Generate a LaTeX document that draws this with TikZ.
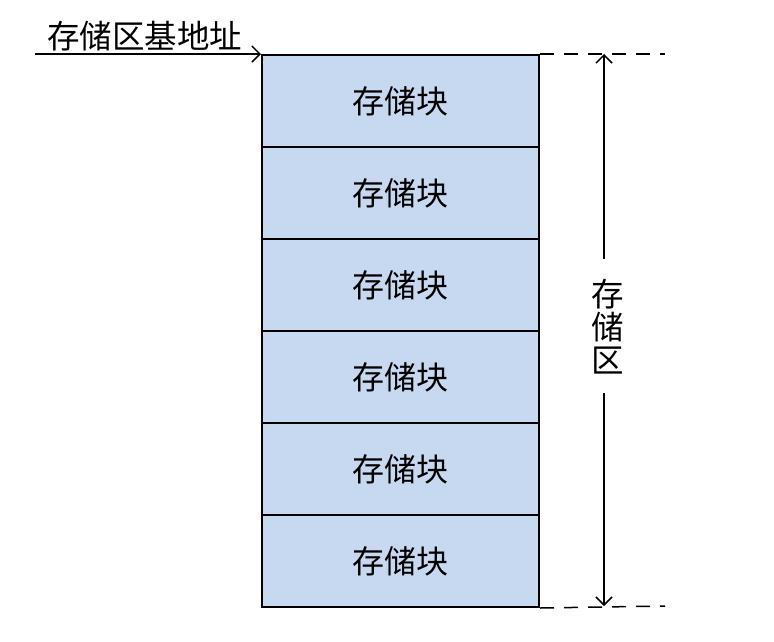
\documentclass[tikz,border=0pt]{standalone}
\usepackage{fontspec}
\newfontfamily\cjk{Noto Sans CJK SC}
\usetikzlibrary{arrows.meta}
\definecolor{blockfill}{RGB}{198,217,240}
\begin{document}
\begin{tikzpicture}[x=1pt,y=-1pt,
  blk/.style={draw=black,line width=2pt,fill=blockfill,minimum width=277pt,minimum height=92pt,inner sep=0pt,font=\cjk\fontsize{32}{33}\selectfont,anchor=north west},
  lbl/.style={font=\cjk\fontsize{32.5}{33}\selectfont,inner sep=0pt},
  arr/.style={line width=1.5pt,-{Straight Barb[length=8pt,width=16pt]}},
  dsh/.style={line width=1.5pt,dash pattern=on 14pt off 10pt}]
\useasboundingbox (0,0) rectangle (774,641);
\foreach \i in {0,...,5}{
  \node[blk] (b\i) at (261,{54+92*\i}) {存储块};
}
\coordinate (s) at (35,54);
\draw[arr] (s) -- (b0.north west);
\node[lbl,anchor=west] (base) at (47,36) {存储区基地址};
\coordinate (tr) at (665,54);
\coordinate (br) at (665,606);
\draw[dsh] (b0.north east) -- (tr);
\draw[dsh] (b5.south east) -- (br);
\node[lbl,align=center] (zone) at (608,327) {存\\储\\区};
\coordinate (vt) at (604,54);
\coordinate (vb) at (604,606);
\coordinate (gt) at (604,259);
\coordinate (gb) at (604,393);
\draw[arr] (gt) -- (vt);
\draw[arr] (gb) -- (vb);
\end{tikzpicture}
\end{document}
